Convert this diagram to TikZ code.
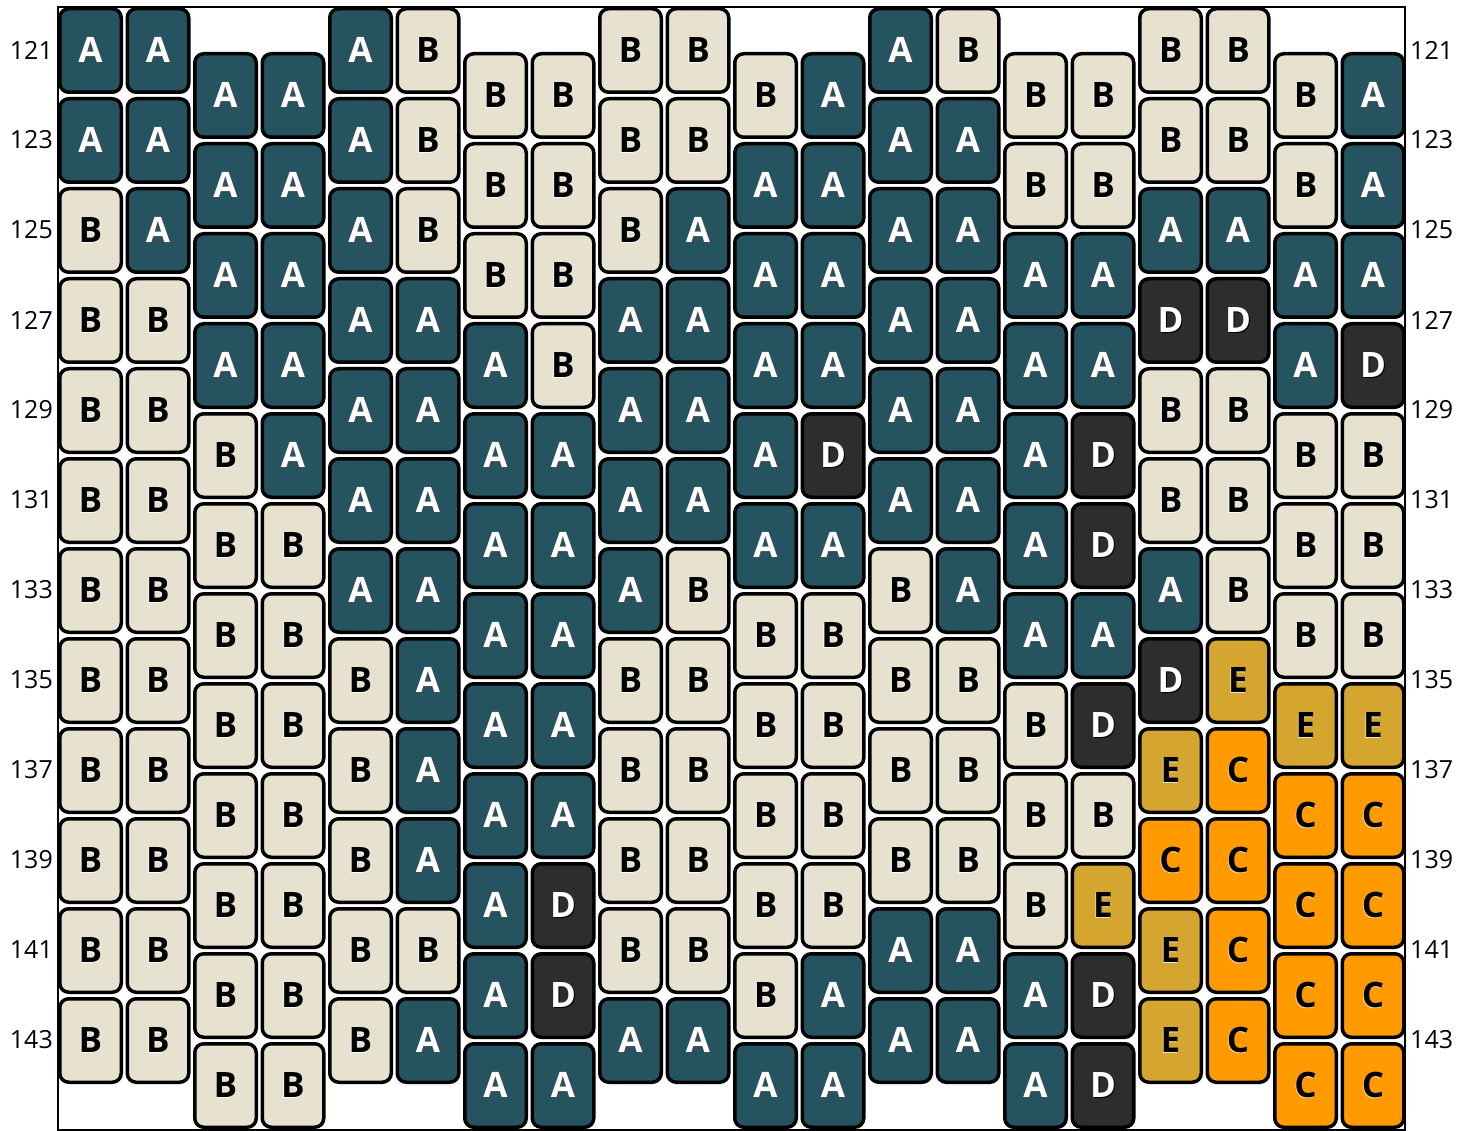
\documentclass[tikz,border=0pt]{standalone}
\usepackage{fontspec}
\setmainfont{Open Sans}
\usetikzlibrary{positioning}
\definecolor{tealA}{HTML}{25535F}
\definecolor{creamB}{HTML}{E6E2CF}
\definecolor{orangeC}{HTML}{FF9A00}
\definecolor{darkD}{HTML}{2D2D2F}
\definecolor{goldE}{HTML}{D4A62F}
% letter with a small offset shadow
\newcommand\shadowed[3]{\makebox[0pt][l]{\hspace{#1}\raisebox{-1pt}{\textcolor{#2}{#3}}}#3}
\newcommand\letA{\shadowed{1pt}{black!70}{A}}
\newcommand\letB{\shadowed{-0.8pt}{white}{B}}
\newcommand\letC{\shadowed{-0.8pt}{white!60!orangeC}{C}}
\newcommand\letD{\shadowed{1pt}{black}{D}}
\newcommand\letE{\shadowed{-0.8pt}{white!70!goldE}{E}}

\begin{document}
\begin{tikzpicture}[x=1pt, y=-1pt,
    cell/.style={draw=black, line width=3.5pt, rounded corners=9pt, minimum width=61.5pt, minimum height=83.5pt, inner sep=0pt, font=\fontsize{35}{35}\selectfont\bfseries},
    kind A/.style={fill=tealA, text=white},
    kind B/.style={fill=creamB, text=black},
    kind C/.style={fill=orangeC, text=black},
    kind D/.style={fill=darkD, text=white},
    kind E/.style={fill=goldE, text=black},
    rowlab/.style={inner sep=0pt, font=\fontsize{25}{25}\selectfont}
]
    \useasboundingbox (0,0) rectangle (1475,1131);
    % Frame
    \draw[line width=2.5pt] (58,7) rectangle (1405,1130);

    % Row labels
    \foreach \r [count=\k from 0] in {121,123,...,143} {
        \node[rowlab, anchor=east] (labL\r) at (53,50+90*\k) {\r};
        \node[rowlab, anchor=west] (labR\r) at (1410,50+90*\k) {\r};
    }

    % Cells, column by column
    \foreach \seq [count=\i] in {
        {A,A,B,B,B,B,B,B,B,B,B,B},
        {A,A,A,B,B,B,B,B,B,B,B,B},
        {A,A,A,A,B,B,B,B,B,B,B,B},
        {A,A,A,A,A,B,B,B,B,B,B,B},
        {A,A,A,A,A,A,A,B,B,B,B,B},
        {B,B,B,A,A,A,A,A,A,A,B,A},
        {B,B,B,A,A,A,A,A,A,A,A,A},
        {B,B,B,B,A,A,A,A,A,D,D,A},
        {B,B,B,A,A,A,A,B,B,B,B,A},
        {B,B,A,A,A,A,B,B,B,B,B,A},
        {B,A,A,A,A,A,B,B,B,B,B,A},
        {A,A,A,A,D,A,B,B,B,B,A,A},
        {A,A,A,A,A,A,B,B,B,B,A,A},
        {B,A,A,A,A,A,A,B,B,B,A,A},
        {B,B,A,A,A,A,A,B,B,B,A,A},
        {B,B,A,A,D,D,A,D,B,E,D,D},
        {B,B,A,D,B,B,A,D,E,C,E,E},
        {B,B,A,D,B,B,B,E,C,C,C,C},
        {B,B,A,A,B,B,B,E,C,C,C,C},
        {A,A,A,D,B,B,B,E,C,C,C,C}} {
        \pgfmathsetmacro\xc{90.5+67.5*(\i-1)}
        \pgfmathsetmacro\off{mod(floor((\i-1)/2),2)*45}
        \foreach \t [count=\j] in \seq {
            \node[cell, kind \t] (c\i-\j) at (\xc,50.5+\off+90*\j-90) {\csname let\t\endcsname};
        }
    }
\end{tikzpicture}
\end{document}
